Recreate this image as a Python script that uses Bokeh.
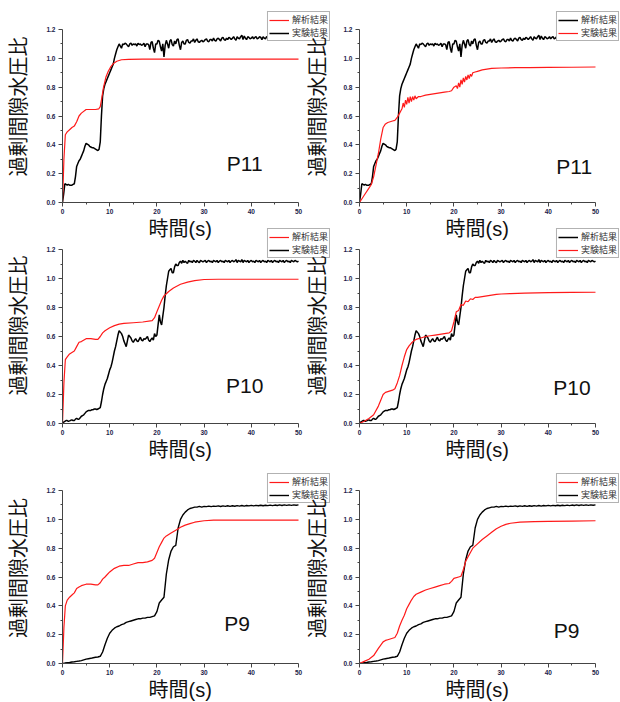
from bokeh.plotting import figure
from bokeh.layouts import column, row
from bokeh.models import (Range1d, FixedTicker, PrintfTickFormatter,
                          Legend, LegendItem, Label, Title)
from bokeh.embed import file_html
from bokeh.resources import INLINE

# ---------------- data ----------------
T_EXP_FINE = [i * 0.25 for i in range(201)]   # sampling times (s) for P11 / P10
T_EXP = [i * 0.5 for i in range(101)]         # sampling times (s) for P9

# P11 experiment (実験結果)
EXP_P11 = [0.00, 0.06, 0.13, 0.125, 0.12, 0.125, 0.12, 0.12,
           0.12, 0.125, 0.13, 0.18, 0.25, 0.27, 0.29, 0.30,
           0.32, 0.34, 0.36, 0.39, 0.41, 0.405, 0.40, 0.39,
           0.385, 0.38, 0.38, 0.375, 0.37, 0.365, 0.36, 0.37,
           0.42, 0.60, 0.74, 0.79, 0.82, 0.84, 0.86, 0.88,
           0.90, 0.92, 0.94, 0.96, 1.00, 1.03, 1.06, 1.08,
           1.10, 1.085, 1.07, 1.10, 1.095, 1.105, 1.10, 1.09,
           1.08, 1.10, 1.105, 1.09, 1.10, 1.095, 1.10, 1.085,
           1.105, 1.095, 1.10, 1.09, 1.095, 1.105, 1.08, 1.10,
           1.10, 1.095, 1.06, 1.11, 1.115, 1.07, 1.04, 1.10,
           1.10, 1.125, 1.12, 1.08, 1.05, 1.10, 1.01, 1.09,
           1.125, 1.10, 1.07, 1.12, 1.13, 1.095, 1.085, 1.12,
           1.10, 1.13, 1.135, 1.09, 1.06, 1.11, 1.12, 1.10,
           1.10, 1.125, 1.13, 1.11, 1.105, 1.12, 1.12, 1.135,
           1.11, 1.125, 1.135, 1.115, 1.11, 1.12, 1.125, 1.115,
           1.12, 1.13, 1.135, 1.12, 1.115, 1.13, 1.13, 1.12,
           1.14, 1.125, 1.12, 1.135, 1.14, 1.13, 1.12, 1.14,
           1.145, 1.13, 1.125, 1.14, 1.13, 1.145, 1.14, 1.13,
           1.14, 1.15, 1.135, 1.125, 1.15, 1.14, 1.135, 1.15,
           1.16, 1.13, 1.155, 1.14, 1.13, 1.15, 1.145, 1.135,
           1.14, 1.15, 1.135, 1.145, 1.15, 1.135, 1.14, 1.15,
           1.145, 1.13, 1.15, 1.14, 1.135, 1.15, 1.145, 1.135,
           1.15, 1.14, 1.13, 1.145, 1.15, 1.14, 1.135, 1.15,
           1.14, 1.145, 1.155, 1.135, 1.14, 1.15, 1.14, 1.135,
           1.15, 1.145, 1.135, 1.15, 1.14, 1.145, 1.15, 1.14,
           1.145]

# P10 experiment
EXP_P10 = [0.00, 0.01, 0.015, 0.02, 0.02, 0.015, 0.018, 0.022,
           0.025, 0.02, 0.02, 0.03, 0.035, 0.03, 0.03, 0.04,
           0.05, 0.055, 0.06, 0.07, 0.08, 0.085, 0.09, 0.09,
           0.09, 0.095, 0.095, 0.10, 0.10, 0.095, 0.10, 0.105,
           0.11, 0.15, 0.20, 0.24, 0.27, 0.29, 0.31, 0.34,
           0.37, 0.39, 0.42, 0.46, 0.50, 0.53, 0.57, 0.61,
           0.64, 0.63, 0.62, 0.60, 0.57, 0.55, 0.53, 0.57,
           0.61, 0.60, 0.59, 0.57, 0.56, 0.575, 0.585, 0.57,
           0.565, 0.58, 0.595, 0.575, 0.57, 0.585, 0.58, 0.59,
           0.60, 0.575, 0.565, 0.58, 0.59, 0.575, 0.62, 0.60,
           0.61, 0.68, 0.75, 0.70, 0.68, 0.74, 0.80, 0.88,
           0.95, 1.00, 1.05, 1.06, 1.07, 1.04, 1.04, 1.08,
           1.10, 1.09, 1.09, 1.11, 1.12, 1.105, 1.125, 1.11,
           1.12, 1.11, 1.105, 1.125, 1.115, 1.12, 1.11, 1.125,
           1.12, 1.11, 1.125, 1.115, 1.11, 1.125, 1.12, 1.115,
           1.12, 1.125, 1.11, 1.12, 1.125, 1.115, 1.12, 1.11,
           1.125, 1.12, 1.115, 1.125, 1.11, 1.12, 1.125, 1.115,
           1.12, 1.11, 1.125, 1.12, 1.115, 1.125, 1.11, 1.12,
           1.125, 1.115, 1.12, 1.13, 1.11, 1.125, 1.12, 1.115,
           1.13, 1.11, 1.125, 1.12, 1.115, 1.125, 1.11, 1.12,
           1.125, 1.115, 1.12, 1.11, 1.125, 1.12, 1.115, 1.125,
           1.11, 1.12, 1.125, 1.115, 1.12, 1.11, 1.125, 1.12,
           1.115, 1.125, 1.11, 1.12, 1.125, 1.115, 1.12, 1.11,
           1.125, 1.12, 1.115, 1.125, 1.11, 1.12, 1.125, 1.115,
           1.12, 1.11, 1.125, 1.12, 1.115, 1.125, 1.12, 1.115,
           1.12]

# P9 experiment
EXP_P9 = [0.00, 0.003, 0.005, 0.007, 0.01, 0.012, 0.015, 0.017, 0.02, 0.025,
          0.03, 0.033, 0.036, 0.04, 0.043, 0.045, 0.05, 0.08, 0.13, 0.175,
          0.21, 0.23, 0.245, 0.255, 0.26, 0.27, 0.275, 0.285, 0.29, 0.295,
          0.30, 0.305, 0.31, 0.31, 0.315, 0.315, 0.32, 0.32, 0.325, 0.33,
          0.36, 0.42, 0.44, 0.46, 0.62, 0.72, 0.78, 0.81, 0.82, 0.94,
          1.00, 1.03, 1.05, 1.065, 1.075, 1.08, 1.085, 1.085, 1.09, 1.085,
          1.09, 1.088, 1.092, 1.088, 1.092, 1.09, 1.093, 1.089, 1.093, 1.09,
          1.094, 1.09, 1.094, 1.091, 1.095, 1.092, 1.096, 1.092, 1.096, 1.093,
          1.097, 1.093, 1.097, 1.094, 1.098, 1.094, 1.098, 1.095, 1.099, 1.095,
          1.099, 1.096, 1.10, 1.096, 1.10, 1.097, 1.10, 1.097, 1.10, 1.098,
          1.10]

# analysis results (解析結果)
T_A_P11L = [0, 0.3, 0.6, 1.0, 1.5, 2.0, 2.5, 3.0, 3.5, 4.0, 5.0, 6.0, 7.0, 7.7, 8.0,
            8.3, 8.7, 9.2, 9.7, 10.2, 10.8, 11.5, 12.5, 14, 17, 20, 30, 40, 50]
A_P11L = [0, 0.30, 0.47, 0.49, 0.505, 0.52, 0.53, 0.56, 0.60, 0.62, 0.645, 0.645, 0.645,
          0.65, 0.665, 0.72, 0.80, 0.87, 0.91, 0.94, 0.965, 0.98, 0.99, 0.993, 0.994,
          0.994, 0.994, 0.994, 0.994]

T_A_P11R = [0, 1, 2, 2.5, 3, 3.5, 4, 4.5, 5, 5.5, 6, 7, 7.5, 8, 8.5, 9, 9.25, 9.5, 9.75,
            10, 10.25, 10.5, 10.75, 11, 11.25, 11.5, 11.75, 12, 12.5, 13, 14, 15, 16, 17,
            18, 19, 19.5, 20, 20.5, 20.75, 21, 21.25, 21.5, 21.75, 22, 22.25, 22.5, 22.75,
            23, 23.25, 23.5, 23.75, 24, 24.5, 25, 26, 27, 28, 30, 33, 36, 40, 45, 50]
A_P11R = [0, 0.05, 0.10, 0.125, 0.18, 0.26, 0.34, 0.44, 0.52, 0.545, 0.555, 0.565, 0.57,
          0.59, 0.62, 0.65, 0.69, 0.66, 0.71, 0.68, 0.73, 0.69, 0.735, 0.70, 0.735, 0.71,
          0.74, 0.72, 0.735, 0.735, 0.745, 0.75, 0.755, 0.76, 0.765, 0.77, 0.775, 0.80,
          0.81, 0.79, 0.83, 0.80, 0.85, 0.82, 0.865, 0.835, 0.875, 0.85, 0.885, 0.86,
          0.89, 0.875, 0.90, 0.905, 0.91, 0.92, 0.925, 0.93, 0.933, 0.935, 0.936, 0.937,
          0.938, 0.94]

T_A_P10L = [0, 0.3, 0.6, 1.0, 1.5, 2.0, 2.5, 3.0, 3.5, 4.0, 5.0, 6.0, 7.0, 7.5, 8.0, 8.5,
            9.0, 10.0, 11.0, 12.0, 13.0, 15.0, 17.0, 19.0, 19.5, 20.0, 20.5, 21.0, 21.5,
            22.0, 22.5, 23.5, 25.0, 26.5, 28.0, 30.0, 33.0, 40.0, 50.0]
A_P10L = [0, 0.28, 0.44, 0.46, 0.48, 0.49, 0.50, 0.53, 0.56, 0.565, 0.585, 0.585, 0.58,
          0.58, 0.60, 0.625, 0.64, 0.66, 0.675, 0.685, 0.69, 0.695, 0.70, 0.71, 0.73,
          0.77, 0.81, 0.85, 0.88, 0.895, 0.91, 0.935, 0.96, 0.975, 0.985, 0.993, 0.995,
          0.995, 0.995]

T_A_P10R = [0, 1, 2, 3, 4, 5, 5.5, 6, 7, 7.5, 8, 8.5, 9, 9.5, 10, 10.5, 11, 11.5, 12, 13,
            14, 15, 16, 17, 18, 19, 19.5, 20, 20.5, 21, 21.5, 22, 22.5, 23, 23.5, 24, 24.5,
            25, 26, 27, 28, 29, 30, 32, 35, 40, 45, 50]
A_P10R = [0, 0.015, 0.035, 0.06, 0.12, 0.20, 0.215, 0.22, 0.23, 0.24, 0.28, 0.33, 0.40,
          0.46, 0.51, 0.535, 0.555, 0.57, 0.58, 0.59, 0.60, 0.605, 0.61, 0.615, 0.62,
          0.625, 0.64, 0.70, 0.77, 0.78, 0.82, 0.815, 0.845, 0.84, 0.86, 0.855, 0.87,
          0.87, 0.875, 0.88, 0.885, 0.89, 0.893, 0.896, 0.899, 0.902, 0.904, 0.905]

T_A_P9L = [0, 0.3, 0.6, 1.0, 1.5, 2.0, 2.5, 3.0, 3.5, 4.0, 5.0, 6.0, 7.0, 7.5, 8.0, 8.5,
           9.0, 10.0, 11.0, 12.0, 13.0, 14.0, 15.0, 16.0, 17.0, 18.0, 19.0, 19.5, 20.0,
           20.5, 21.0, 21.5, 22.0, 23.0, 24.0, 25.0, 26.0, 27.0, 28.0, 30.0, 32.0, 35.0,
           40.0, 50.0]
A_P9L = [0, 0.25, 0.40, 0.44, 0.46, 0.475, 0.49, 0.52, 0.53, 0.54, 0.55, 0.55, 0.545,
         0.545, 0.56, 0.585, 0.60, 0.635, 0.66, 0.675, 0.68, 0.68, 0.69, 0.70, 0.70,
         0.705, 0.715, 0.73, 0.77, 0.81, 0.84, 0.87, 0.885, 0.905, 0.925, 0.945, 0.96,
         0.97, 0.98, 0.99, 0.995, 0.995, 0.995, 0.995]

T_A_P9R = [0, 1, 2, 3, 4, 5, 5.5, 6, 7, 7.5, 8, 8.5, 9, 9.5, 10, 10.5, 11, 11.5, 12, 13,
           14, 15, 16, 17, 18, 19, 19.5, 20, 21, 21.5, 22, 22.5, 23, 23.5, 24, 25, 26, 27,
           28, 29, 30, 31, 32, 34, 37, 40, 45, 50]
A_P9R = [0, 0.015, 0.03, 0.055, 0.105, 0.15, 0.16, 0.165, 0.175, 0.18, 0.21, 0.26, 0.30,
         0.335, 0.38, 0.41, 0.44, 0.465, 0.48, 0.495, 0.51, 0.52, 0.53, 0.54, 0.55, 0.555,
         0.57, 0.59, 0.60, 0.605, 0.65, 0.71, 0.74, 0.77, 0.80, 0.83, 0.86, 0.885, 0.91,
         0.935, 0.952, 0.965, 0.973, 0.98, 0.984, 0.986, 0.988, 0.99]

Y_TICKS = [0.0, 0.2, 0.4, 0.6, 0.8, 1.0, 1.2]
Y_MINOR = [0.1, 0.3, 0.5, 0.7, 0.9, 1.1]
X_TICKS = [0, 10, 20, 30, 40, 50]
X_MINOR = [5, 15, 25, 35, 45]

LBL_A = "解析結果"
LBL_E = "実験結果"
X_LABEL = "時間(s)"
Y_LABEL = "過剰間隙水圧比"

FONT = "'Liberation Sans', 'Noto Sans CJK JP'"
RED = "#ff1a1a"
BLACK = "#000000"

X_MAX, Y_MAX = 50.0, 1.2
AXIS_W = 236  # pixel length of the 0-50 s axis


def make_panel(width, height, bl, br, bt, bb, axis_h, ylab_standoff, xlab_offset, margin):
    frame_w = width - bl - br
    frame_h = height - bt - bb
    p = figure(width=width, height=height, title=None,
               x_range=Range1d(0, X_MAX * frame_w / AXIS_W),
               y_range=Range1d(0, Y_MAX * frame_h / axis_h),
               output_backend="svg", toolbar_location=None,
               min_border_left=bl, min_border_right=br, min_border_top=bt,
               min_border_bottom=bb, margin=margin)
    p.outline_line_color = None
    p.grid.visible = False
    p.background_fill_color = None
    p.border_fill_color = None
    p.xaxis.ticker = FixedTicker(ticks=X_TICKS, minor_ticks=X_MINOR)
    p.yaxis.ticker = FixedTicker(ticks=Y_TICKS, minor_ticks=Y_MINOR)
    p.xaxis.formatter = PrintfTickFormatter(format="%d")
    p.yaxis.formatter = PrintfTickFormatter(format="%.1f")
    p.xaxis.bounds = (0, X_MAX)
    p.yaxis.bounds = (0, Y_MAX)
    for ax in (p.xaxis[0], p.yaxis[0]):
        ax.axis_line_color = "#444444"
        ax.axis_line_width = 1
        ax.major_tick_line_color = "#444444"
        ax.minor_tick_line_color = "#444444"
        ax.major_tick_in = 0
        ax.major_tick_out = 4
        ax.minor_tick_in = 0
        ax.minor_tick_out = 2
        ax.major_label_text_font = "Liberation Sans"
        ax.major_label_text_font_size = "6.5px"
        ax.major_label_text_color = "#22224a"
        ax.major_label_text_font_style = "bold"
        ax.axis_label_text_font = FONT
        ax.axis_label_text_font_size = "20px"
        ax.axis_label_text_font_style = "normal"
        ax.axis_label_text_color = "#111111"
    p.yaxis.axis_label = Y_LABEL
    p.xaxis.major_label_standoff = 2
    p.yaxis.major_label_standoff = 3
    p.yaxis.axis_label_standoff = ylab_standoff
    # x-axis title, placed under the 0-50 s axis
    p.add_layout(Title(text=X_LABEL, align="left", offset=xlab_offset, standoff=0,
                       vertical_align="middle", text_font=FONT, text_font_size="20px",
                       text_font_style="normal", text_color="#111111"), "below")
    return p


def add_legend(p, items):
    leg = Legend(items=[LegendItem(label=l, renderers=[r]) for l, r in items],
                 location="top_right", orientation="vertical",
                 label_text_font=FONT, label_text_font_size="9px",
                 label_text_color="#333333",
                 label_height=9, label_standoff=3, glyph_width=20, glyph_height=8,
                 spacing=0, padding=1, margin=1,
                 border_line_color="#666666", border_line_width=1,
                 background_fill_color="white", background_fill_alpha=1.0)
    p.add_layout(leg)


def add_tag(p, text, x, y):
    p.add_layout(Label(x=x, y=y, text=text, text_font="Liberation Sans",
                       text_font_size="21px", text_align="center",
                       text_baseline="middle", text_color="#111111"))


# (height, top border, bottom border, axis pixel height, top margin)
rows_cfg = [(242, 10, 40, 173, 0), (236, 0, 40, 174, -15), (239, 9, 39, 173, 0)]

specs = [
    ("L", T_A_P11L, A_P11L, T_EXP_FINE, EXP_P11, True, "P11", 38.6, 0.27, 1.5),
    ("R", T_A_P11R, A_P11R, T_EXP_FINE, EXP_P11, False, "P11", 45.5, 0.25, 1.5),
    ("L", T_A_P10L, A_P10L, T_EXP_FINE, EXP_P10, True, "P10", 38.6, 0.26, 1.5),
    ("R", T_A_P10R, A_P10R, T_EXP_FINE, EXP_P10, False, "P10", 45.0, 0.25, 1.5),
    ("L", T_A_P9L, A_P9L, T_EXP, EXP_P9, True, "P9", 37.0, 0.28, 1.4),
    ("R", T_A_P9R, A_P9R, T_EXP, EXP_P9, True, "P9", 43.9, 0.23, 1.4),
]

figs = []
for i, (side, rt, rv, et, ev, red_is_analysis, tag, tx, ty, bw) in enumerate(specs):
    h, bt, bb, axis_h, mtop = rows_cfg[i // 2]
    if side == "L":
        p = make_panel(331, h, 62, 0, bt, bb, axis_h, 13, 86, (mtop, 0, 0, 0))
    else:
        p = make_panel(320, h, 59, 0, bt, bb, axis_h, 11, 86, (mtop, 0, 0, -31))
    rb = p.line(et, ev, line_color=BLACK, line_width=bw)
    rr = p.line(rt, rv, line_color=RED, line_width=1.2)
    if red_is_analysis:
        items = [(LBL_A, rr), (LBL_E, rb)]
    else:
        items = [(LBL_A, rb), (LBL_E, rr)]
    add_legend(p, items)
    add_tag(p, tag, tx, ty)
    figs.append(p)

layout = column(row(figs[0], figs[1]), row(figs[2], figs[3]), row(figs[4], figs[5]))

open("out.html", "w").write(file_html(layout, INLINE))
